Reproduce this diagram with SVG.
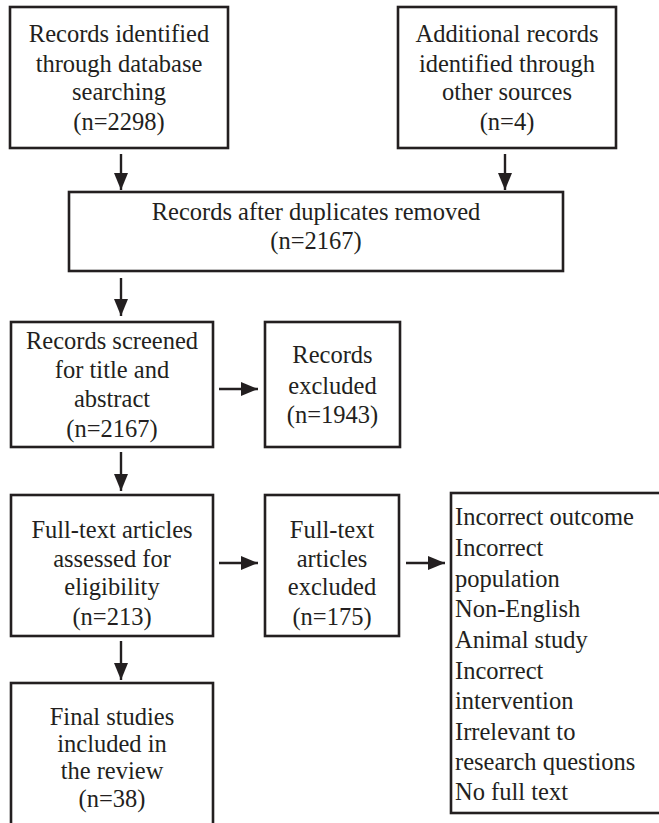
<svg xmlns="http://www.w3.org/2000/svg" width="659" height="823" viewBox="0 0 659 823">
<style>
.box{fill:#fff;stroke:#231f20;stroke-width:2.6}
.t{font-family:"Liberation Serif","Times New Roman",serif;font-size:24.5px;fill:#231f20;text-anchor:middle}
.l{text-anchor:start}
.c{stroke:#231f20;stroke-width:2.4;fill:none}
</style>
<defs>
<marker id="ah" markerUnits="userSpaceOnUse" markerWidth="18" markerHeight="14" refX="17" refY="7" orient="auto">
<path d="M0,0 L17,7 L0,14 Z" fill="#231f20"/>
</marker>
</defs>
<rect width="659" height="823" fill="#fff"/>
<g id="n1">
<rect class="box" x="10" y="7" width="218" height="141"/>
<text class="t" x="119" y="42">Records identified</text>
<text class="t" x="119" y="72">through database</text>
<text class="t" x="119" y="100">searching</text>
<text class="t" x="119" y="130">(n=2298)</text>
</g>
<g id="n2">
<rect class="box" x="398" y="7" width="218" height="141"/>
<text class="t" x="507" y="42">Additional records</text>
<text class="t" x="507" y="72">identified through</text>
<text class="t" x="507" y="100">other sources</text>
<text class="t" x="507" y="130">(n=4)</text>
</g>
<g id="n3">
<rect class="box" x="69" y="192" width="494" height="79"/>
<text class="t" x="316" y="220">Records after duplicates removed</text>
<text class="t" x="316" y="249">(n=2167)</text>
</g>
<g id="n4">
<rect class="box" x="11" y="322" width="202" height="125"/>
<text class="t" x="112" y="349">Records screened</text>
<text class="t" x="112" y="378">for title and</text>
<text class="t" x="112" y="407">abstract</text>
<text class="t" x="112" y="437">(n=2167)</text>
</g>
<g id="n5">
<rect class="box" x="265" y="322" width="135" height="125"/>
<text class="t" x="332.5" y="363">Records</text>
<text class="t" x="332.5" y="394">excluded</text>
<text class="t" x="332.5" y="423">(n=1943)</text>
</g>
<g id="n6">
<rect class="box" x="11" y="495" width="202" height="141"/>
<text class="t" x="112" y="538">Full-text articles</text>
<text class="t" x="112" y="567">assessed for</text>
<text class="t" x="112" y="595">eligibility</text>
<text class="t" x="112" y="625">(n=213)</text>
</g>
<g id="n7">
<rect class="box" x="265" y="495" width="134" height="141"/>
<text class="t" x="332" y="538">Full-text</text>
<text class="t" x="332" y="567">articles</text>
<text class="t" x="332" y="595">excluded</text>
<text class="t" x="332" y="625">(n=175)</text>
</g>
<g id="n8">
<rect class="box" x="451" y="493" width="212" height="320"/>
<text class="t l" x="455" y="525">Incorrect outcome</text>
<text class="t l" x="455" y="556">Incorrect</text>
<text class="t l" x="455" y="587">population</text>
<text class="t l" x="455" y="617">Non-English</text>
<text class="t l" x="455" y="648">Animal study</text>
<text class="t l" x="455" y="679">Incorrect</text>
<text class="t l" x="455" y="709">intervention</text>
<text class="t l" x="455" y="740">Irrelevant to</text>
<text class="t l" x="455" y="770">research questions</text>
<text class="t l" x="455" y="800">No full text</text>
</g>
<g id="n9">
<rect class="box" x="11" y="683" width="202" height="160"/>
<text class="t" x="112" y="725">Final studies</text>
<text class="t" x="112" y="752">included in</text>
<text class="t" x="112" y="779">the review</text>
<text class="t" x="112" y="807">(n=38)</text>
</g>
<g id="connectors">
<line class="c" x1="121" y1="154" x2="121" y2="190" marker-end="url(#ah)"/>
<line class="c" x1="505" y1="154" x2="505" y2="190" marker-end="url(#ah)"/>
<line class="c" x1="121" y1="278" x2="121" y2="316" marker-end="url(#ah)"/>
<line class="c" x1="219" y1="389" x2="258" y2="389" marker-end="url(#ah)"/>
<line class="c" x1="121" y1="452" x2="121" y2="491" marker-end="url(#ah)"/>
<line class="c" x1="219" y1="563" x2="258" y2="563" marker-end="url(#ah)"/>
<line class="c" x1="406" y1="563" x2="445" y2="563" marker-end="url(#ah)"/>
<line class="c" x1="121" y1="641" x2="121" y2="680" marker-end="url(#ah)"/>
</g>
</svg>
